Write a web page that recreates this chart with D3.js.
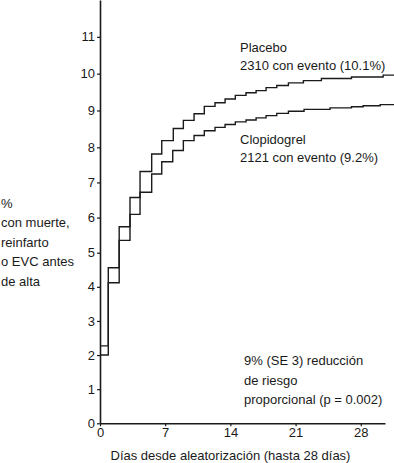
<!DOCTYPE html>
<html><head><meta charset="utf-8">
<script src="https://cdn.jsdelivr.net/npm/d3@7"></script>
<style>
html,body{margin:0;padding:0;background:#fff;}
svg{display:block;}
text{font-family:"Liberation Sans",Arial,sans-serif;fill:#1a1a1a;}
</style></head>
<body>
<script>
// ---- data ----
const placeboDays = [0, 0.89, 2.06, 3.22, 4.30, 5.55, 6.63, 7.87, 8.95, 10.10, 11.20, 12.35, 13.43, 14.53, 15.68, 16.76, 17.83, 18.98, 20.23, 21.84, 23.77, 27.0, 30.40, 31.58];
const placeboPct  = [2.27, 4.56, 5.74, 6.57, 7.31, 7.81, 8.18, 8.51, 8.73, 8.91, 9.11, 9.21, 9.31, 9.41, 9.48, 9.54, 9.62, 9.68, 9.75, 9.81, 9.87, 9.91, 9.96, 9.96];
const clopidogrelDays = [0, 0.89, 2.06, 3.22, 4.30, 5.55, 6.63, 7.81, 8.95, 10.10, 11.20, 12.35, 13.43, 14.53, 15.68, 16.76, 17.83, 18.98, 20.23, 21.91, 24.70, 27.0, 28.25, 30.08, 31.58];
const clopidogrelPct  = [2.0, 4.12, 5.35, 6.09, 6.72, 7.24, 7.59, 7.91, 8.18, 8.32, 8.45, 8.54, 8.62, 8.69, 8.74, 8.80, 8.86, 8.92, 8.98, 9.03, 9.07, 9.10, 9.13, 9.16, 9.16];
const xTicks = [0, 7, 14, 21, 28];
const yTicks = [0, 1, 2, 3, 4, 5, 6, 7, 8, 9, 10, 11];
const yLabelLines = ["%", "con muerte,", "reinfarto", "o EVC antes", "de alta"];
const xTitle = "Días desde aleatorización (hasta 28 días)";
const placeboLabel = ["Placebo", "2310 con evento (10.1%)"];
const clopidogrelLabel = ["Clopidogrel", "2121 con evento (9.2%)"];
const riskLabel = ["9% (SE 3) reducción", "de riesgo", "proporcional (p = 0.002)"];

// ---- chart ----
const W = 394, H = 463;
const svg = d3.select("body").append("svg").attr("width", W).attr("height", H);
const ink = "#1a1a1a";

const x = d3.scaleLinear().domain([0, 30.6]).range([100, 385]);
const y = d3.scaleLinear().domain([0, 5, 8, 12]).range([423.3, 252.7, 147.3, 0]);

const fs = 13;

// y axis
const gy = svg.append("g").attr("transform", `translate(${x(0)},0)`)
  .call(d3.axisLeft(y).tickValues(yTicks).tickSize(3).tickPadding(2).tickSizeOuter(0).tickFormat(d3.format("d")));
gy.select(".domain").attr("stroke", ink).attr("stroke-width", 1.6);
gy.selectAll(".tick line").attr("stroke", ink).attr("stroke-width", 1.2);
gy.selectAll(".tick text").attr("font-size", fs).attr("font-family", "Liberation Sans, Arial, sans-serif").attr("fill", ink);

// x axis
const gx = svg.append("g").attr("transform", `translate(0,${y(0)})`)
  .call(d3.axisBottom(x).tickValues(xTicks).tickSize(3).tickPadding(1).tickSizeOuter(0));
gx.select(".domain").attr("stroke", ink).attr("stroke-width", 1.6);
gx.selectAll(".tick line").attr("stroke", ink).attr("stroke-width", 1.2);
gx.selectAll(".tick text").attr("font-size", fs).attr("font-family", "Liberation Sans, Arial, sans-serif").attr("fill", ink);

// step curves
const line = d3.line().x(d => x(d[0])).y(d => y(d[1])).curve(d3.curveStepAfter);
[[placeboDays, placeboPct], [clopidogrelDays, clopidogrelPct]].forEach(([ds, vs]) => {
  svg.append("path").datum(d3.zip(ds, vs)).attr("d", line)
    .attr("fill", "none").attr("stroke", ink).attr("stroke-width", 1.4);
});

// text blocks
function block(lines, x0, y0, dy) {
  const t = svg.append("text").attr("font-size", fs);
  lines.forEach((s, i) => t.append("tspan").attr("x", x0).attr("y", y0 + i * dy).text(s));
}
block(yLabelLines, 1, 207.5, 19.6);
block(placeboLabel, 240, 51.5, 18.3);
block(clopidogrelLabel, 240, 144, 18.3);
block(riskLabel, 244, 365, 19.5);

svg.append("text").attr("x", 230.5).attr("y", 460).attr("text-anchor", "middle")
  .attr("font-size", fs).text(xTitle);
</script>
</body></html>
